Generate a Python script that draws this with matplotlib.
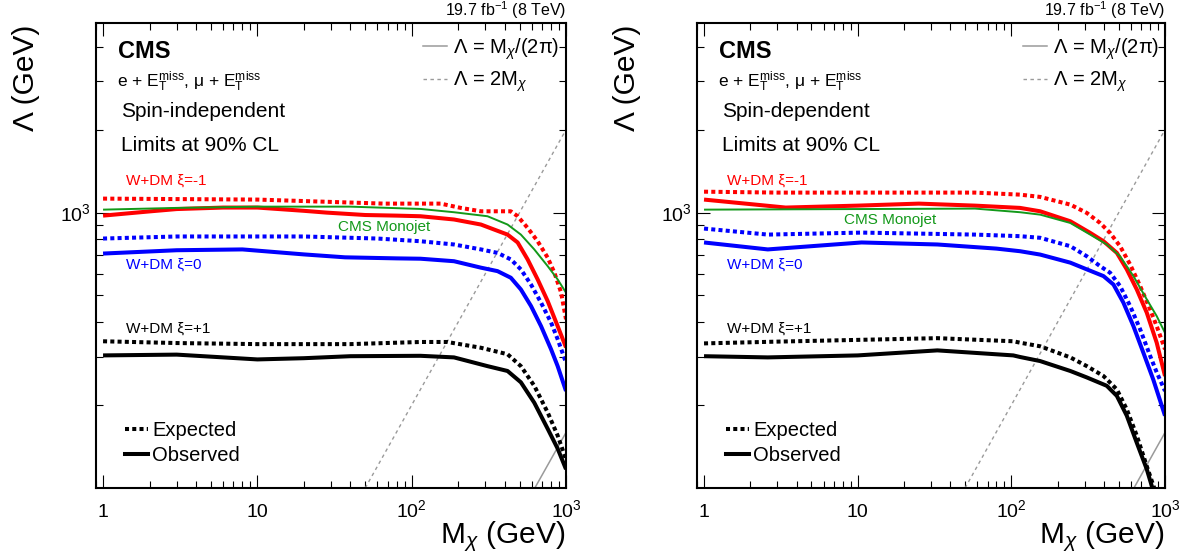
import matplotlib
matplotlib.use("Agg")
import matplotlib.pyplot as plt
from matplotlib.lines import Line2D
from matplotlib.ticker import FixedLocator, FixedFormatter, LogLocator, NullFormatter

plt.rcParams['font.family'] = ['Liberation Sans', 'DejaVu Sans']
plt.rcParams['mathtext.fontset'] = 'custom'
plt.rcParams['mathtext.rm'] = 'Liberation Sans'
plt.rcParams['mathtext.it'] = 'Liberation Sans:italic'
plt.rcParams['mathtext.bf'] = 'Liberation Sans:bold'

# --- spin-independent limits (M_chi in GeV, Lambda in GeV) ---
si_red_exp_m = [1, 10, 66, 114, 154, 208, 281, 439, 486, 564, 655, 761, 840, 929, 1000]
si_red_exp_lam = [1124, 1115, 1078, 1078, 1078, 1040, 1011, 1011, 970, 880, 787, 686, 606, 513, 410]
si_red_obs_m = [1, 2, 3, 6, 10, 20, 28, 50, 80, 114, 188, 281, 342, 418, 486, 564, 655, 761, 883, 1000]
si_red_obs_lam = [975, 1010, 1030, 1043, 1043, 1015, 1000, 980, 975, 970, 944, 905, 868, 832, 779, 676, 572, 477, 387, 324]
si_green_m = [1, 3, 10, 40, 114, 188, 310, 418, 510, 623, 761, 883, 1000]
si_green_lam = [1025, 1040, 1051, 1051, 1031, 1003, 970, 905, 832, 735, 639, 572, 512]
si_blue_exp_m = [1, 3, 20, 60, 114, 188, 281, 360, 439, 510, 593, 689, 800, 883, 1000]
si_blue_exp_lam = [805, 819, 819, 805, 787, 766, 735, 714, 676, 622, 548, 471, 399, 347, 285]
si_blue_obs_m = [1, 3, 8, 20, 37, 80, 114, 188, 281, 360, 439, 510, 593, 689, 800, 883, 1000]
si_blue_obs_lam = [710, 730, 735, 705, 688, 682, 680, 666, 631, 613, 580, 526, 458, 387, 319, 277, 225]
si_black_exp_m = [1, 3, 10, 40, 114, 170, 281, 418, 510, 623, 761, 883, 1000]
si_black_exp_lam = [341, 336, 333, 333, 339, 339, 323, 306, 277, 235, 188, 155, 127]
si_black_obs_m = [1, 3, 10, 20, 40, 114, 188, 310, 418, 510, 623, 761, 883, 1000]
si_black_obs_lam = [303, 305, 293, 296, 301, 302, 298, 277, 266, 242, 204, 164, 139, 117]

# --- spin-dependent limits ---
sd_red_exp_m = [1, 3, 20, 58, 114, 154, 242, 310, 378, 439, 510, 593, 689, 800, 883, 1000]
sd_red_exp_lam = [1191, 1182, 1182, 1182, 1162, 1140, 1069, 997, 917, 844, 755, 648, 541, 445, 387, 319]
sd_red_obs_m = [1, 3.4, 10, 25, 58, 114, 154, 242, 326, 398, 486, 564, 655, 761, 883, 1000]
sd_red_obs_lam = [1115, 1043, 1060, 1078, 1060, 1040, 1011, 930, 844, 787, 714, 622, 526, 433, 337, 255]
sd_green_m = [1, 10, 58, 114, 154, 242, 326, 418, 510, 623, 761, 883, 1000]
sd_green_lam = [1025, 1030, 1034, 1003, 983, 917, 832, 766, 694, 588, 484, 421, 366]
sd_blue_exp_m = [1, 2.6, 10.6, 58, 114, 154, 242, 310, 378, 439, 510, 593, 689, 800, 883, 1000]
sd_blue_exp_lam = [875, 832, 846, 832, 821, 810, 755, 694, 639, 605, 541, 458, 377, 302, 263, 225]
sd_blue_obs_m = [1, 2.6, 10.6, 33, 80, 114, 154, 242, 310, 398, 462, 536, 623, 723, 840, 1000]
sd_blue_obs_lam = [779, 735, 779, 766, 740, 724, 704, 658, 622, 588, 548, 471, 387, 310, 247, 183]
sd_black_exp_m = [1, 3, 33, 103, 114, 154, 242, 310, 398, 486, 564, 655, 761, 840, 880]
sd_black_exp_lam = [335, 340, 350, 341, 337, 327, 298, 277, 255, 228, 193, 155, 120, 102, 95]
sd_black_obs_m = [1, 2.6, 10, 33, 103, 114, 154, 242, 310, 418, 486, 564, 655, 761, 819, 850]
sd_black_obs_lam = [301, 298, 303, 316, 303, 299, 289, 266, 252, 235, 216, 183, 146, 117, 102, 95]

# theory lines Lambda = 2 M and Lambda = M / (2 pi)
line_2m_m = [50, 1000]
line_2m_lam = [100, 2000]
line_2pi_m = [628, 1000]
line_2pi_lam = [100, 159]

x_ticks = [1, 10, 100, 1000]
x_tick_labels = ['1', '10', r'$\mathregular{10^{2}}$', r'$\mathregular{10^{3}}$']
y_ticks = [1000]
y_tick_labels = [r'$\mathregular{10^{3}}$']

RED = '#ff0000'
BLUE = '#0000ff'
GREEN = '#13991a'
GRAY = '#9a9a9a'
DOT = (0, (1.0, 0.8))


def draw_panel(ax, curves, spin_text, monojet_pos):
    ax.plot(line_2pi_m, line_2pi_lam, color=GRAY, lw=1.1)
    ax.plot(line_2m_m, line_2m_lam, color=GRAY, lw=1.0, ls=(0, (2.5, 2.5)))

    for m, lam, color, ls, lw in curves:
        ax.plot(m, lam, color=color, ls=ls, lw=lw, solid_capstyle='butt')

    ax.set_xscale('log')
    ax.set_yscale('log')
    ax.set_xlim(0.9, 1000)
    ax.set_ylim(100, 4880)

    ax.xaxis.set_major_locator(FixedLocator(x_ticks))
    ax.xaxis.set_major_formatter(FixedFormatter(x_tick_labels))
    ax.xaxis.set_minor_locator(LogLocator(base=10, subs=range(2, 10)))
    ax.xaxis.set_minor_formatter(NullFormatter())
    ax.yaxis.set_major_locator(FixedLocator(y_ticks))
    ax.yaxis.set_major_formatter(FixedFormatter(y_tick_labels))
    ax.yaxis.set_minor_locator(LogLocator(base=10, subs=range(2, 10)))
    ax.yaxis.set_minor_formatter(NullFormatter())

    ax.tick_params(which='both', direction='in', top=True, right=True, width=0.8, labelsize=14)
    ax.tick_params(which='major', length=9.5)
    ax.tick_params(which='minor', length=5)
    ax.tick_params(axis='x', pad=21)
    ax.tick_params(axis='y', pad=4)
    for lbl in ax.get_xticklabels():
        lbl.set_va('baseline')
    for s in ax.spines.values():
        s.set_linewidth(1.5)

    ax.set_xlabel(r'M$_{\chi}$ (GeV)', fontsize=21.5, loc='right')
    ax.xaxis.set_label_coords(1.0, -0.118)
    ax.xaxis.label.set_va('baseline')
    ax.set_ylabel('Λ (GeV)', fontsize=21.5, loc='top')
    ax.yaxis.set_label_coords(-0.132, 0.996)
    ax.yaxis.label.set_va('baseline')

    ax.text(1.0, 1.004, r'19.7 fb$^\mathregular{-1}$ (8 TeV)', transform=ax.transAxes,
            ha='right', va='bottom', fontsize=11.5)
    ax.text(0.047, 0.938, 'CMS', transform=ax.transAxes, ha='left', va='center',
            fontsize=17, fontweight='bold')
    ax.text(0.045, 0.874, r'e + E$_\mathregular{T}^\mathregular{miss}$, μ + E$_\mathregular{T}^\mathregular{miss}$',
            transform=ax.transAxes, ha='left', va='center', fontsize=12.5)
    ax.text(0.053, 0.810, spin_text, transform=ax.transAxes, ha='left', va='center', fontsize=15)
    ax.text(0.053, 0.736, 'Limits at 90% CL', transform=ax.transAxes, ha='left', va='center', fontsize=15)

    ax.text(0.064, 0.662, 'W+DM ξ=-1', transform=ax.transAxes, ha='left', va='center', fontsize=11, color=RED)
    ax.text(0.064, 0.480, 'W+DM ξ=0', transform=ax.transAxes, ha='left', va='center', fontsize=11, color=BLUE)
    ax.text(0.064, 0.342, 'W+DM ξ=+1', transform=ax.transAxes, ha='left', va='center', fontsize=11, color='black')
    ax.text(monojet_pos[0], monojet_pos[1], 'CMS Monojet', transform=ax.transAxes,
            ha='left', va='center', fontsize=11, color=GREEN)

    theory = ax.legend(
        [Line2D([], [], color=GRAY, lw=1.1), Line2D([], [], color=GRAY, lw=1.0, ls=(0, (2.5, 2.5)))],
        [r'Λ = M$_{\chi}$/(2π)', r'Λ = 2M$_{\chi}$'],
        loc='upper left', bbox_to_anchor=(0.696, 0.972), frameon=False, fontsize=14.5,
        borderpad=0, borderaxespad=0, handlelength=1.2, handletextpad=0.3, labelspacing=0.4)
    ax.add_artist(theory)

    ax.legend(
        [Line2D([], [], color='black', lw=2.9, ls=DOT), Line2D([], [], color='black', lw=2.9)],
        ['Expected', 'Observed'],
        loc='lower left', bbox_to_anchor=(0.062, 0.05), frameon=False, fontsize=14.5,
        borderpad=0, borderaxespad=0, handlelength=1.15, handletextpad=0.2, labelspacing=0.3)


fig = plt.figure(figsize=(11.91, 5.59), dpi=100)
ax1 = fig.add_axes([96 / 1191, 1 - 488 / 559, 470 / 1191, 465 / 559])
ax2 = fig.add_axes([697 / 1191, 1 - 488 / 559, 468 / 1191, 465 / 559])

si_curves = [
    (si_black_exp_m, si_black_exp_lam, 'black', DOT, 2.9),
    (si_black_obs_m, si_black_obs_lam, 'black', '-', 2.9),
    (si_blue_exp_m, si_blue_exp_lam, BLUE, DOT, 2.9),
    (si_blue_obs_m, si_blue_obs_lam, BLUE, '-', 2.9),
    (si_red_exp_m, si_red_exp_lam, RED, DOT, 2.9),
    (si_red_obs_m, si_red_obs_lam, RED, '-', 2.9),
    (si_green_m, si_green_lam, GREEN, '-', 1.4),
]
sd_curves = [
    (sd_black_exp_m, sd_black_exp_lam, 'black', DOT, 2.9),
    (sd_black_obs_m, sd_black_obs_lam, 'black', '-', 2.9),
    (sd_blue_exp_m, sd_blue_exp_lam, BLUE, DOT, 2.9),
    (sd_blue_obs_m, sd_blue_obs_lam, BLUE, '-', 2.9),
    (sd_red_exp_m, sd_red_exp_lam, RED, DOT, 2.9),
    (sd_red_obs_m, sd_red_obs_lam, RED, '-', 2.9),
    (sd_green_m, sd_green_lam, GREEN, '-', 1.4),
]

draw_panel(ax1, si_curves, 'Spin-independent', (0.515, 0.561))
draw_panel(ax2, sd_curves, 'Spin-dependent', (0.314, 0.576))

fig.savefig('out.png', dpi=100)
